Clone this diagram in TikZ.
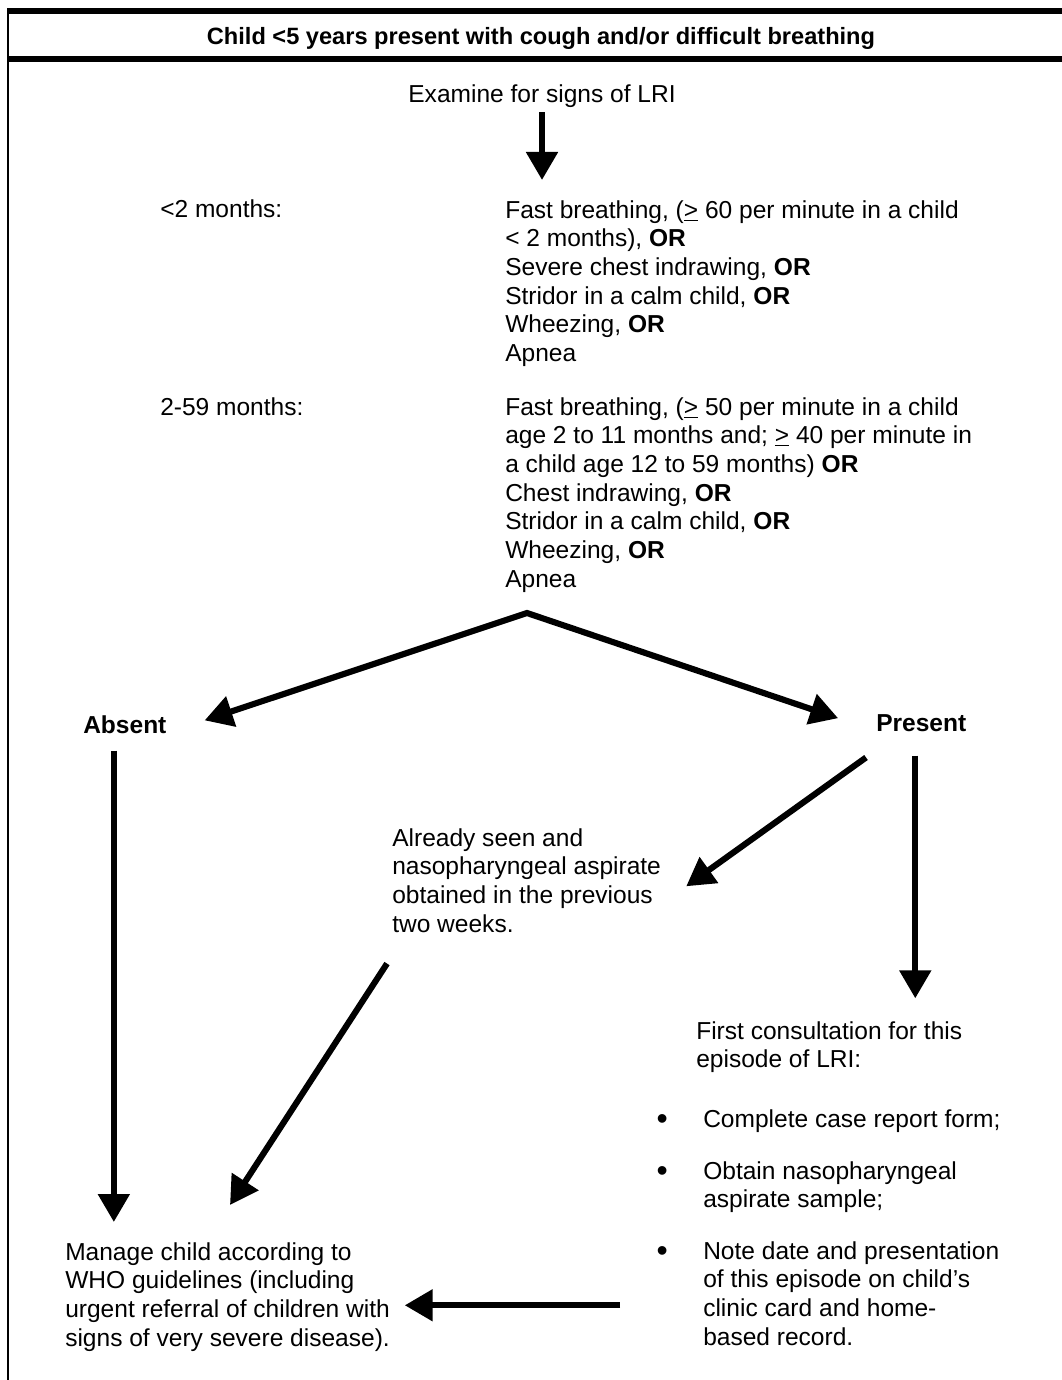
\documentclass[tikz,border=0pt]{standalone}
\usepackage{fontspec}
\setmainfont{Liberation Sans}
\usetikzlibrary{arrows.meta,positioning}
\tikzset{>=latex}
\newcommand{\stepdot}{\llap{\raisebox{-1.5pt}{\fontsize{24}{24}\selectfont\textbullet}\hspace{26.5pt}}}

\begin{document}
\begin{tikzpicture}[x=0.75pt, y=-0.75pt, flow/.style={line width=4.6pt, -{Triangle[length=21pt,width=23pt]}}, txt/.style={inner sep=0pt, align=left, anchor=base west, font=\fontsize{18.4}{21.5}\selectfont}, para/.style={txt, anchor=north west}, bold/.style={txt, font=\fontsize{18.4}{21.5}\selectfont\bfseries}, rule/.style={line width=3.8pt}]

    \useasboundingbox (0,0) rectangle (1062,1380);

    % Frame
    \draw[rule] (7,11) -- (1062,11);
    \draw[rule] (7,59) -- (1062,59);
    \draw[line width=1.5pt] (8,9) -- (8,1380);
    \node[inner sep=0pt, anchor=base, font=\fontsize{17.7}{21.5}\selectfont\bfseries] (title) at (541,45) {Child <5 years present with cough and/or difficult breathing};

    % Signs of LRI
    \node[txt, anchor=base] (examine) at (542,103) {Examine for signs of LRI};
    \node[txt] (lt2) at (160,218) {<2 months:};
    \node[para] (sign1) at (505,200) {Fast breathing, (\underline{>} 60 per minute in a child\\< 2 months), \textbf{OR}\\Severe chest indrawing, \textbf{OR}\\Stridor in a calm child, \textbf{OR}\\Wheezing, \textbf{OR}\\Apnea};
    \node[txt] (gt2) at (160,415) {2-59 months:};
    \node[para] (sign2) at (505,397) {Fast breathing, (\underline{>} 50 per minute in a child\\age 2 to 11 months and; \underline{>} 40 per minute in\\a child age 12 to 59 months) \textbf{OR}\\Chest indrawing, \textbf{OR}\\Stridor in a calm child, \textbf{OR}\\Wheezing, \textbf{OR}\\Apnea};

    \draw[flow, shorten <=3pt, shorten >=15pt] (examine.south) -- (examine.south |- sign1.north);

    % Absent / present
    \coordinate (fork) at (527,613);
    \node[bold] (absent) at (83,733) {Absent};
    \node[bold] (present) at (876,731) {Present};
    \draw[line width=4.6pt, line join=miter, {Triangle[length=21pt,width=23pt]}-{Triangle[length=21pt,width=23pt]}, shorten <=30pt, shorten >=30pt] (absent.base east) -- (fork) -- (present.base west);

    \node[para] (seen) at (392,828) {Already seen and\\nasopharyngeal aspirate\\obtained in the previous\\two weeks.};
    \node[para] (first) at (696,1021) {First consultation for this\\episode of LRI:};
    \node[txt] (step1) at (703,1127) {\stepdot Complete case report form;};
    \node[para] (step2) at (703,1161) {\stepdot Obtain nasopharyngeal\\aspirate sample;};
    \node[para] (step3) at (703,1241) {\stepdot Note date and presentation\\of this episode on child's\\clinic card and home-\\based record.};
    \node[para] (manage) at (65,1242) {Manage child according to\\WHO guidelines (including\\urgent referral of children with\\signs of very severe disease).};

    % Connectors
    \coordinate (absent-out) at ([shift={(-11,17)}]absent.south);
    \coordinate (present-out) at ([shift={(-6,24)}]present.south);
    \coordinate (step3-out) at ([shift={(-83,12)}]step3.west);
    \draw[flow, shorten >=15pt] (absent-out) -- (absent-out |- manage.north);
    \draw[flow] ([shift={(-10,26)}]present.south west) -- ([shift={(25,6)}]seen.east);
    \draw[flow, shorten >=17pt] (present-out) -- (present-out |- first.north);
    \draw[flow] ([shift={(-5,31)}]seen.south west) -- ([shift={(165,-37)}]manage.north west);
    \draw[flow, shorten >=11pt] (step3-out) -- (step3-out -| manage.east);
\end{tikzpicture}
\end{document}
